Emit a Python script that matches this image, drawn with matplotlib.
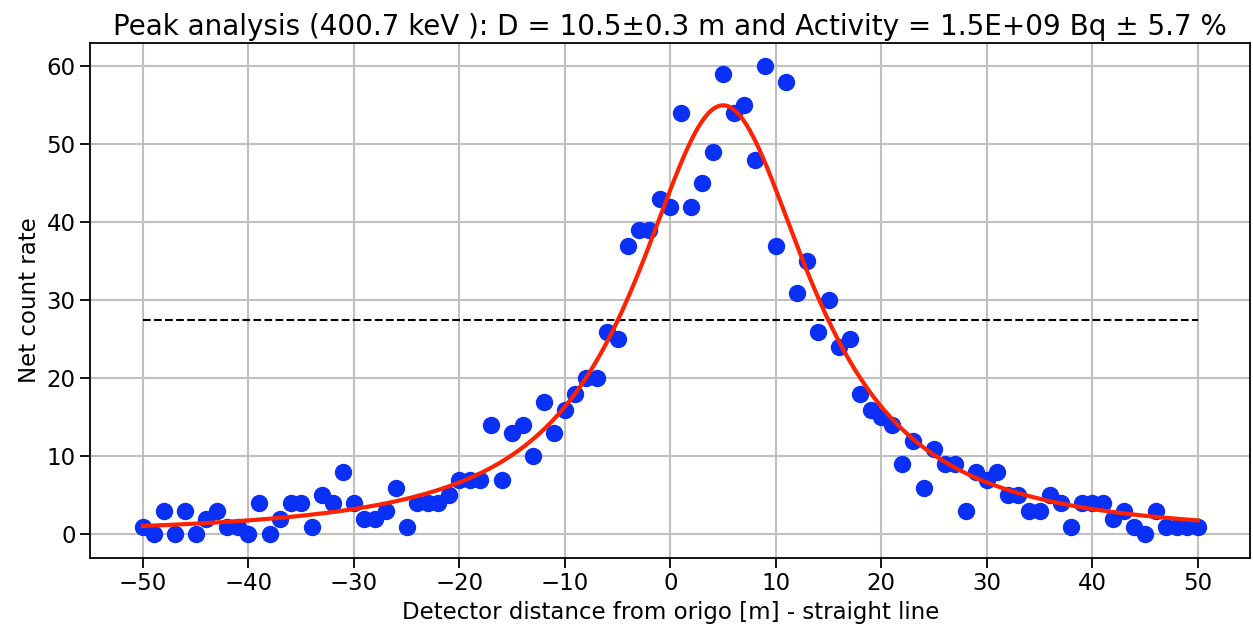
import numpy as np
import matplotlib
matplotlib.use('Agg')
import matplotlib.pyplot as plt

#detector positions [m] and measured net count rate
positions = list(range(-50, 51))
net_counts = [1, 0, 3, 0, 3, 0, 2, 3, 1, 1,
              0, 4, 0, 2, 4, 4, 1, 5, 4, 8,
              4, 2, 2, 3, 6, 1, 4, 4, 4, 5,
              7, 7, 7, 14, 7, 13, 14, 10, 17, 13,
              16, 18, 20, 20, 26, 25, 37, 39, 39, 43,
              42, 54, 42, 45, 49, 59, 54, 55, 48, 60,
              37, 58, 31, 35, 26, 30, 24, 25, 18, 16,
              15, 14, 9, 12, 6, 11, 9, 9, 3, 8,
              7, 8, 5, 5, 3, 3, 5, 4, 1, 4,
              4, 4, 2, 3, 1, 0, 3, 1, 1, 1,
              1]

#fit parameters (point source seen from a straight line)
dist = 10.5        # closest distance D [m]
x_peak = 5.0       # position of closest approach [m]
peak_rate = 55.0   # fitted count rate at closest approach
mu_air = 0.0128    # attenuation [1/m]
half_max = 27.5

x_fit = np.linspace(-50, 50, 500)
r = np.sqrt(dist**2 + (x_fit - x_peak)**2)
y_fit = peak_rate * (dist / r)**2 * np.exp(-mu_air * (r - dist))

fig, ax = plt.subplots(figsize=(12.53, 6.31), dpi=100)
ax.plot(positions, net_counts, 'o', color='#0a2ff5', markersize=11.5, zorder=3)
ax.plot(x_fit, y_fit, color='#ff2200', linewidth=3, zorder=4)
ax.plot([positions[0], positions[-1]], [half_max, half_max], '--', color='black', linewidth=1.5)

ax.set_xticks(range(-50, 51, 10))
ax.set_yticks(range(0, 61, 10))
ax.tick_params(labelsize=16.5, length=7, width=1.3)
ax.grid(True, color='#c0c0c0', linewidth=1.5)
ax.set_axisbelow(True)
ax.set_xlabel('Detector distance from origo [m] - straight line', fontsize=16.5)
ax.set_ylabel('Net count rate', fontsize=16.5)
ax.set_title('Peak analysis (400.7 keV ): D = 10.5\u00b10.3 m and Activity = 1.5E+09 Bq \u00b1 5.7 %', fontsize=20)
for s in ax.spines.values():
    s.set_linewidth(1.3)

plt.subplots_adjust(left=0.072, right=0.998, top=0.932, bottom=0.116)
plt.savefig('out.png', dpi=100)
